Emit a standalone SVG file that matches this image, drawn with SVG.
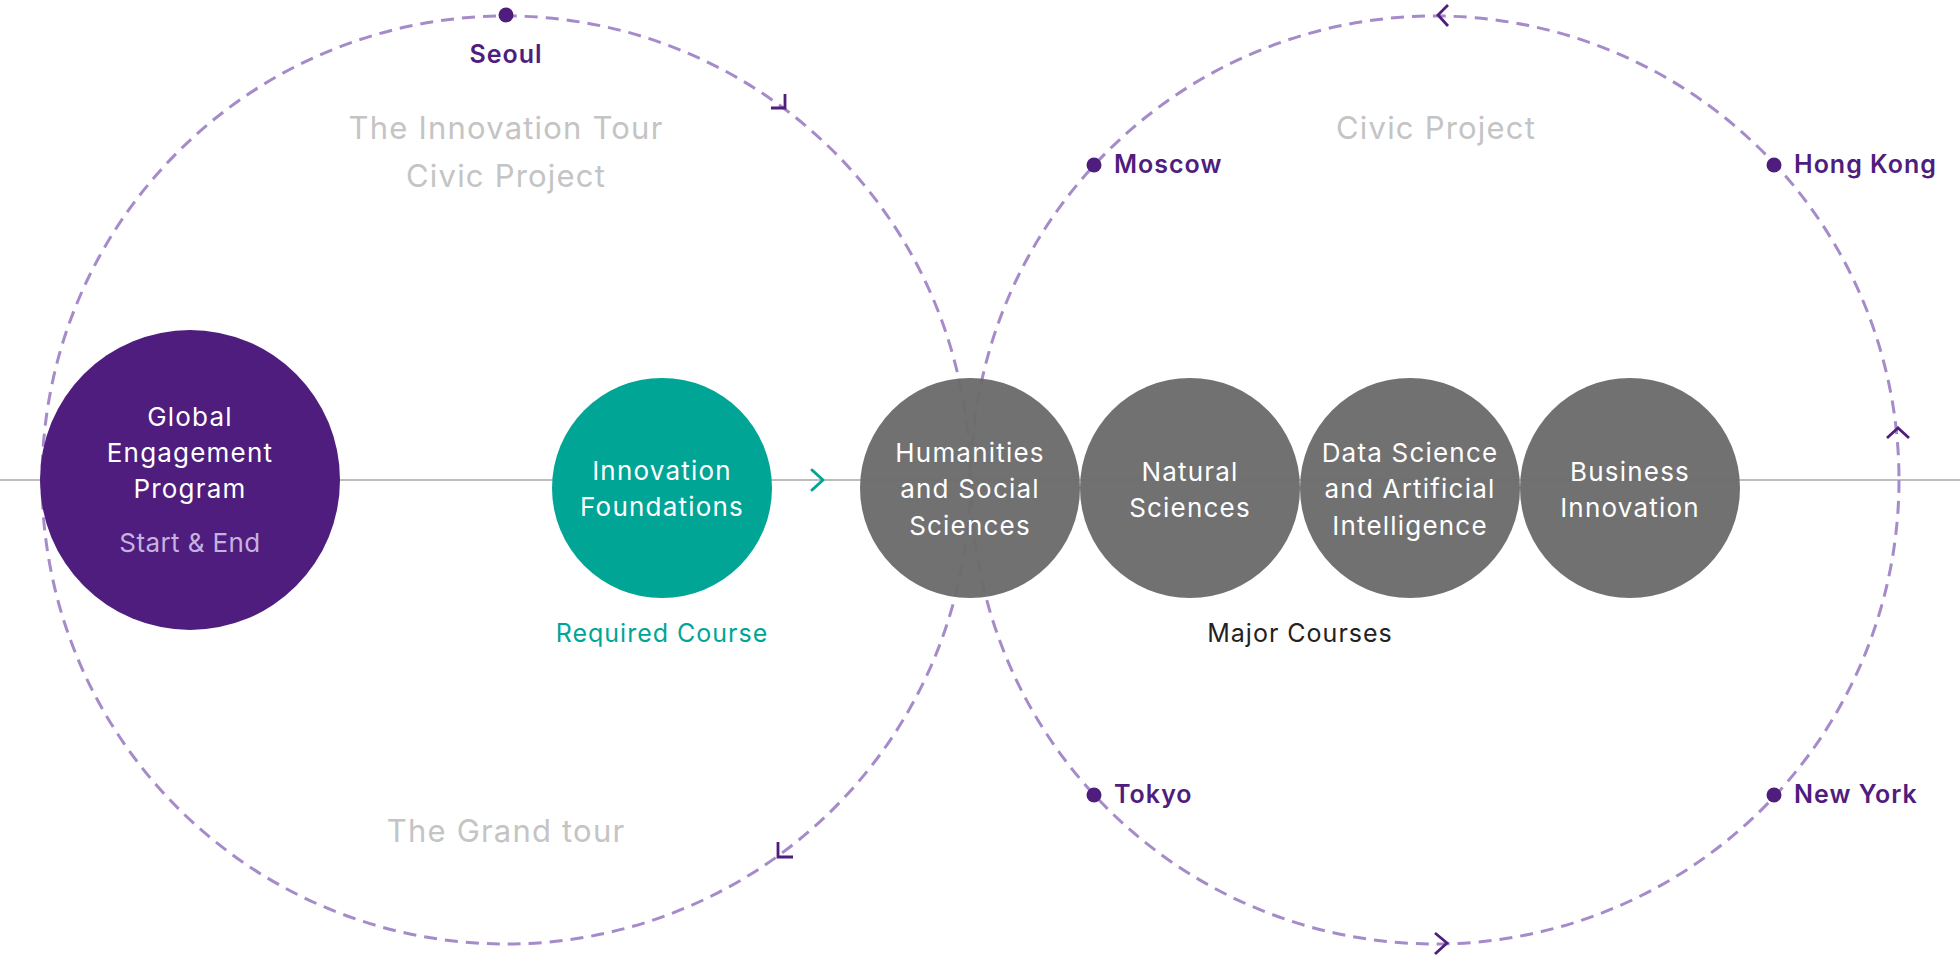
<svg xmlns="http://www.w3.org/2000/svg" width="1960" height="960" viewBox="0 0 1960 960">
  <style>
    text { font-family: Inter, "Noto Sans", "Liberation Sans", sans-serif; }
    .axis { stroke: #bdbdbd; stroke-width: 2; fill: none; }
    .loop { stroke: #a58bc9; stroke-width: 3; fill: none; stroke-dasharray: 13 8; }
    .chev { stroke: #4f1d7e; stroke-width: 2.8; fill: none; stroke-linecap: butt; stroke-linejoin: miter; }
    .chev-teal { stroke: #00a596; stroke-width: 3; fill: none; stroke-linecap: round; stroke-linejoin: round; }
    .dot { fill: #4f1d7e; }
    .city { fill: #4f1d7e; font-size: 25px; font-weight: 600; letter-spacing: 1px; }
    .tour { fill: #c4c4c4; font-size: 31px; font-weight: 400; letter-spacing: 1.2px; text-anchor: middle; }
    .node-label { fill: #ffffff; font-size: 26px; font-weight: 400; letter-spacing: 1.2px; text-anchor: middle; }
    .sub-label { fill: #c6b2de; font-size: 26px; font-weight: 400; letter-spacing: 0.4px; text-anchor: middle; }
    .caption { font-size: 25px; font-weight: 400; letter-spacing: 1px; text-anchor: middle; }
    .purple { fill: #4f1d7e; }
    .teal { fill: #00a596; }
    .major { fill: #6b6b6b; fill-opacity: 0.96; }
  </style>

  <rect width="1960" height="960" fill="#ffffff"/>

  <!-- connectors: axis, two dashed tour loops and direction marks -->
  <g id="connectors">
    <line class="axis" x1="0" y1="480" x2="1960" y2="480"/>
    <circle class="loop" cx="506" cy="480" r="464"/>
    <circle class="loop" cx="1435" cy="480" r="464"/>
    <polyline class="chev" points="771,108 785,108 785,94"/>
    <polyline class="chev" points="778,842 778,857 793,857"/>
    <polyline class="chev" points="1448,5 1438,15 1448,26"/>
    <polyline class="chev" points="1887,438 1898,428 1909,438"/>
    <polyline class="chev" points="1435,933 1447,943 1435,954"/>
    <polyline class="chev-teal" points="812,470 823,480 812,490"/>
  </g>

  <!-- start / end node -->
  <g id="global-engagement">
    <circle class="purple" cx="190" cy="480" r="150"/>
    <text class="node-label" x="190" y="426">Global</text>
    <text class="node-label" x="190" y="462">Engagement</text>
    <text class="node-label" x="190" y="498">Program</text>
    <text class="sub-label" x="190" y="552">Start &amp; End</text>
  </g>

  <!-- required course -->
  <g id="innovation-foundations">
    <circle class="teal" cx="662" cy="488" r="110"/>
    <text class="node-label" x="662" y="480">Innovation</text>
    <text class="node-label" x="662" y="516">Foundations</text>
  </g>
  <text id="required-course" class="caption" x="662" y="642" fill="#00a596">Required Course</text>

  <!-- major courses -->
  <g id="humanities">
    <circle class="major" cx="970" cy="488" r="110"/>
    <text class="node-label" x="970" y="462">Humanities</text>
    <text class="node-label" x="970" y="498">and Social</text>
    <text class="node-label" x="970" y="535">Sciences</text>
  </g>
  <g id="natural-sciences">
    <circle class="major" cx="1190" cy="488" r="110"/>
    <text class="node-label" x="1190" y="481">Natural</text>
    <text class="node-label" x="1190" y="517">Sciences</text>
  </g>
  <g id="data-science">
    <circle class="major" cx="1410" cy="488" r="110"/>
    <text class="node-label" x="1410" y="462">Data Science</text>
    <text class="node-label" x="1410" y="498">and Artificial</text>
    <text class="node-label" x="1410" y="535">Intelligence</text>
  </g>
  <g id="business-innovation">
    <circle class="major" cx="1630" cy="488" r="110"/>
    <text class="node-label" x="1630" y="481">Business</text>
    <text class="node-label" x="1630" y="517">Innovation</text>
  </g>
  <text id="major-courses" class="caption" x="1300" y="642" fill="#222222">Major Courses</text>

  <!-- tour titles -->
  <text class="tour" x="506" y="139">The Innovation Tour</text>
  <text class="tour" x="506" y="187">Civic Project</text>
  <text class="tour" x="506" y="842">The Grand tour</text>
  <text class="tour" x="1436" y="139">Civic Project</text>

  <!-- cities -->
  <g id="seoul">
    <circle class="dot" cx="506" cy="15" r="7.5"/>
    <text class="city" x="506" y="63" text-anchor="middle">Seoul</text>
  </g>
  <g id="moscow">
    <circle class="dot" cx="1094" cy="165" r="7.5"/>
    <text class="city" x="1114" y="173">Moscow</text>
  </g>
  <g id="hong-kong">
    <circle class="dot" cx="1774" cy="165" r="7.5"/>
    <text class="city" x="1794" y="173">Hong Kong</text>
  </g>
  <g id="tokyo">
    <circle class="dot" cx="1094" cy="795" r="7.5"/>
    <text class="city" x="1114" y="803">Tokyo</text>
  </g>
  <g id="new-york">
    <circle class="dot" cx="1774" cy="795" r="7.5"/>
    <text class="city" x="1794" y="803">New York</text>
  </g>
</svg>
